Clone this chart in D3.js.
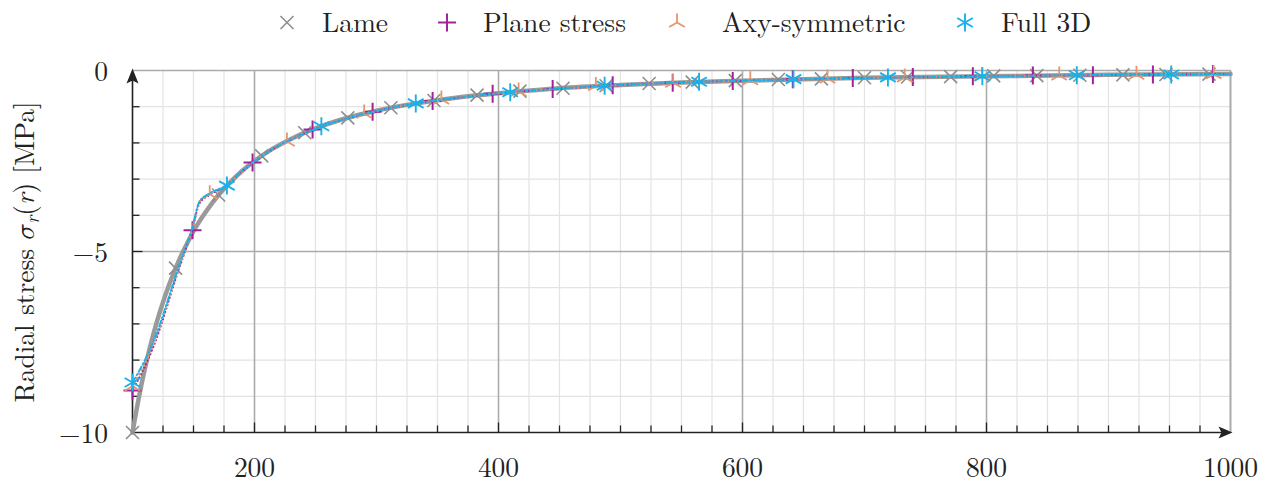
<!DOCTYPE html>
<html>
<head>
<meta charset="utf-8">
<script src="https://cdn.jsdelivr.net/npm/d3@7/dist/d3.min.js"></script>
<style>
  html, body { margin: 0; padding: 0; background: #fff; }
  svg { display: block; }
</style>
</head>
<body>
<svg id="chart" width="1274" height="491"></svg>
<script>
// Radial stress around a pressurised hole: analytic (Lame) vs. three FE models.

// Analytic Lame curve
const lameR = [100, 105, 110, 115, 120, 125, 130, 135, 140, 145, 150, 160, 170, 180, 190, 200,
               215, 230, 250, 275, 300, 325, 350, 375, 400, 450, 500, 550, 600, 700, 800, 900, 1000];
const lameS = [-10.00, -9.07, -8.26, -7.56, -6.94, -6.40, -5.92, -5.49, -5.10, -4.76, -4.44, -3.91,
               -3.46, -3.09, -2.77, -2.50, -2.16, -1.89, -1.60, -1.32, -1.11, -0.95, -0.82, -0.71,
               -0.63, -0.49, -0.40, -0.33, -0.28, -0.20, -0.16, -0.12, -0.10];

// FE solutions (shared radial stations)
const feR = [100, 117, 137.6, 148.8, 155, 163, 177, 190, 200, 215, 230, 250, 275, 300, 325, 350,
             375, 400, 450, 500, 550, 600, 700, 800, 900, 1000];
const planeS = [-8.84, -7.64, -5.52, -4.41, -3.66, -3.44, -3.18, -2.78, -2.52, -2.17, -1.90, -1.61,
                -1.33, -1.12, -0.95, -0.82, -0.72, -0.63, -0.50, -0.40, -0.33, -0.28, -0.21, -0.16, -0.12, -0.10];
const axyS   = [-8.72, -7.58, -5.49, -4.40, -3.63, -3.42, -3.17, -2.78, -2.51, -2.17, -1.90, -1.61,
                -1.33, -1.12, -0.95, -0.82, -0.72, -0.63, -0.50, -0.40, -0.33, -0.28, -0.21, -0.16, -0.12, -0.10];
const full3dS = [-8.62, -7.50, -5.45, -4.37, -3.61, -3.40, -3.17, -2.77, -2.51, -2.17, -1.90, -1.61,
                 -1.33, -1.12, -0.95, -0.82, -0.72, -0.63, -0.50, -0.40, -0.33, -0.28, -0.21, -0.16, -0.12, -0.10];

// Marker stations of each series
const lameMarkR = [100, 135.3, 170.6, 205.9, 241.2, 276.5, 311.8, 347.1, 382.4, 417.6, 452.9, 488.2, 523.5,
                   558.8, 594.1, 629.4, 664.7, 700.0, 735.3, 770.6, 805.9, 841.2, 876.5, 911.8, 947.1, 982.4];
const lameMarkS = [-10.00, -5.46, -3.44, -2.36, -1.72, -1.31, -1.03, -0.83, -0.68, -0.57, -0.49, -0.42, -0.36,
                   -0.32, -0.28, -0.25, -0.23, -0.20, -0.18, -0.17, -0.15, -0.14, -0.13, -0.12, -0.11, -0.10];
const planeMarkR = [100, 149.2, 198.4, 247.6, 296.8, 346, 395.2, 444.4, 493.6, 542.8, 592, 641.2, 690.4,
                    739.6, 788.8, 838, 887.2, 936.4, 985.6];
const planeMarkS = [-8.84, -4.41, -2.54, -1.63, -1.14, -0.84, -0.64, -0.51, -0.41, -0.34, -0.29, -0.24, -0.21,
                    -0.18, -0.16, -0.14, -0.13, -0.11, -0.10];
const axyMarkR = [100, 163.3, 226.6, 289.9, 353.2, 416.5, 479.8, 543.1, 606.4, 669.7, 733, 796.3, 859.6, 922.9, 986.2];
const axyMarkS = [-8.72, -3.42, -1.96, -1.19, -0.80, -0.58, -0.43, -0.34, -0.27, -0.22, -0.19, -0.16, -0.14, -0.12, -0.10];
const full3dMarkR = [100, 177.4, 254.8, 332.2, 409.6, 487, 564.4, 641.8, 719.2, 796.6, 874, 951.4];
const full3dMarkS = [-8.62, -3.18, -1.54, -0.91, -0.60, -0.42, -0.31, -0.24, -0.19, -0.16, -0.13, -0.11];

// Axis ticks
const xTickLabels = [200, 400, 600, 800, 1000];
const yTickLabels = [0, -5, -10];

const FONT = "'Latin Modern Roman', 'Liberation Serif', serif";
const MATHFONT = "'Latin Modern Math', 'Latin Modern Roman', 'DejaVu Serif', serif";
const FS = 27.5;
const X0 = 132.5, X1 = 1230.5, Y0 = 432.5, Y1 = 70.5;
const svg = d3.select("#chart");

const x = d3.scaleLinear().domain([100, 1000]).range([X0, X1]);
const y = d3.scaleLinear().domain([-10, 0]).range([Y0, Y1]);

const minorX = d3.range(100, 1000.1, 25);
const minorY = d3.range(-10, 0.01, 1);
const isMajorX = v => Math.abs(v % 200) < 1e-6;
const isMajorY = v => Math.abs(v % 5) < 1e-6;

// Grid
const grid = svg.append("g");
grid.selectAll(".gxm").data(minorX.filter(v => !isMajorX(v))).join("line")
  .attr("x1", d => x(d)).attr("x2", d => x(d)).attr("y1", Y0).attr("y2", Y1)
  .attr("stroke", "#e3e3e3").attr("stroke-width", 1.2);
grid.selectAll(".gym").data(minorY.filter(v => !isMajorY(v))).join("line")
  .attr("x1", X0).attr("x2", X1).attr("y1", d => y(d)).attr("y2", d => y(d))
  .attr("stroke", "#e3e3e3").attr("stroke-width", 1.2);
grid.selectAll(".gxM").data(minorX.filter(v => isMajorX(v) && v > 100)).join("line")
  .attr("x1", d => x(d)).attr("x2", d => x(d)).attr("y1", Y0).attr("y2", Y1)
  .attr("stroke", "#ababab").attr("stroke-width", 1.6);
grid.selectAll(".gyM").data(minorY.filter(v => isMajorY(v) && v > -10)).join("line")
  .attr("x1", X0).attr("x2", X1).attr("y1", d => y(d)).attr("y2", d => y(d))
  .attr("stroke", "#ababab").attr("stroke-width", 1.6);
// right frame
grid.append("line").attr("x1", x(1000)).attr("x2", x(1000)).attr("y1", Y0).attr("y2", Y1)
  .attr("stroke", "#ababab").attr("stroke-width", 1.6);

// Axis ticks (inward)
const axes = svg.append("g");
axes.selectAll(".tx").data(minorX.filter(v => v > 100 && v < 1000)).join("line")
  .attr("x1", d => x(d)).attr("x2", d => x(d))
  .attr("y1", Y0).attr("y2", d => Y0 - (isMajorX(d) ? 10 : 7))
  .attr("stroke", "#222").attr("stroke-width", 1.3);
axes.selectAll(".ty").data(minorY.filter(v => v > -10 && v < 0)).join("line")
  .attr("x1", X0).attr("x2", d => X0 + (isMajorY(d) ? 10 : 7))
  .attr("y1", d => y(d)).attr("y2", d => y(d))
  .attr("stroke", "#222").attr("stroke-width", 1.3);

// Axis lines with arrow heads
axes.append("line").attr("x1", X0).attr("x2", X1 - 8).attr("y1", Y0).attr("y2", Y0)
  .attr("stroke", "#222").attr("stroke-width", 1.6);
axes.append("line").attr("x1", X0).attr("x2", X0).attr("y1", Y0).attr("y2", Y1 + 8)
  .attr("stroke", "#222").attr("stroke-width", 1.6);
axes.append("path")
  .attr("d", `M${X1 + 2},${Y0} L${X1 - 12},${Y0 - 6} L${X1 - 9},${Y0} L${X1 - 12},${Y0 + 6} Z`)
  .attr("fill", "#222");
axes.append("path")
  .attr("d", `M${X0},${Y1 - 2} L${X0 - 6},${Y1 + 13} L${X0},${Y1 + 10} L${X0 + 6},${Y1 + 13} Z`)
  .attr("fill", "#222");

// Tick labels
const fmt = v => (v < 0 ? "\u2212" + Math.abs(v) : String(v));
svg.append("g").selectAll("text").data(xTickLabels).join("text")
  .attr("x", d => x(d)).attr("y", 477).style("font-family", FONT).attr("fill", "#222")
  .attr("text-anchor", "middle").attr("font-size", FS).text(fmt);
svg.append("g").selectAll("text").data(yTickLabels).join("text")
  .attr("x", 108).attr("y", d => y(d) + 10).style("font-family", FONT).attr("fill", "#222")
  .attr("text-anchor", "end").attr("font-size", FS).text(fmt);

// Y axis title
const yt = svg.append("text")
  .attr("transform", "translate(34,252) rotate(-90)")
  .style("font-family", FONT).attr("fill", "#222")
  .attr("text-anchor", "middle").attr("font-size", FS);
yt.append("tspan").text("Radial stress ");
yt.append("tspan").style("font-family", MATHFONT).text("\uD835\uDF0E");
yt.append("tspan").attr("font-style", "italic").attr("font-size", 19.5).attr("dy", 4.5).text("r");
yt.append("tspan").attr("dy", -4.5).text("(");
yt.append("tspan").attr("font-style", "italic").text("r");
yt.append("tspan").text(") [MPa]");

// Marker shapes
const markerPath = {
  cross: "M-6.5,-6.5L6.5,6.5M-6.5,6.5L6.5,-6.5",
  plus: "M-9,0H9M0,-9V9",
  tri: "M0,0V-9M0,0L-7.8,4.5M0,0L7.8,4.5",
  star: "M0,-9V9M-7.8,-4.5L7.8,4.5M-7.8,4.5L7.8,-4.5"
};

const series = [
  { name: "Lame", r: lameR, s: lameS, mr: lameMarkR, ms: lameMarkS, color: "#9a9a9a",
    mcolor: "#8e8e8e", width: 4.5, dash: null, marker: "cross", mw: 1.6, legendX: 287, textX: 322 },
  { name: "Plane stress", r: feR, s: planeS, mr: planeMarkR, ms: planeMarkS, color: "#a3229c",
    mcolor: "#a3229c", width: 2.2, dash: "0.1,3.6", marker: "plus", mw: 2, legendX: 447, textX: 483 },
  { name: "Axy-symmetric", r: feR, s: axyS, mr: axyMarkR, ms: axyMarkS, color: "#e8956a",
    mcolor: "#e8956a", width: 2.6, dash: "0.1,4.6", marker: "tri", mw: 1.8, legendX: 677, textX: 722 },
  { name: "Full 3D", r: feR, s: full3dS, mr: full3dMarkR, ms: full3dMarkS, color: "#19b1ea",
    mcolor: "#19b1ea", width: 1.8, dash: "6,2.5,1.5,2.5", marker: "star", mw: 1.9, legendX: 965, textX: 1001 }
];

const line = d3.line().curve(d3.curveMonotoneX).x(d => x(d[0])).y(d => y(d[1]));

const plot = svg.append("g");
series.forEach(sr => {
  const pts = sr.r.map((r, i) => [r, sr.s[i]]);
  const p = plot.append("path").attr("d", line(pts))
    .attr("fill", "none").attr("stroke", sr.color).attr("stroke-width", sr.width)
    .attr("stroke-linejoin", "round").attr("stroke-linecap", "round");
  if (sr.dash) p.attr("stroke-dasharray", sr.dash);
  plot.append("g").selectAll("path").data(sr.mr.map((r, i) => [r, sr.ms[i]])).join("path")
    .attr("transform", d => `translate(${x(d[0])},${y(d[1])})`)
    .attr("d", markerPath[sr.marker])
    .attr("fill", "none").attr("stroke", sr.mcolor).attr("stroke-width", sr.mw);
});

// Legend
const lg = svg.append("g");
series.forEach(sr => {
  lg.append("path").attr("transform", `translate(${sr.legendX},22.5)`)
    .attr("d", markerPath[sr.marker]).attr("fill", "none")
    .attr("stroke", sr.mcolor).attr("stroke-width", sr.mw);
  lg.append("text").attr("x", sr.textX).attr("y", 32).attr("font-size", FS)
    .style("font-family", FONT).attr("fill", "#222").text(sr.name);
});
</script>
</body>
</html>
